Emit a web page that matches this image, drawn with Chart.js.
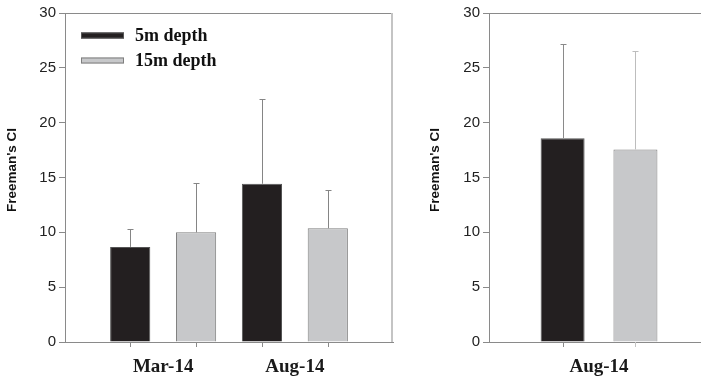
<!DOCTYPE html>
<html>
<head>
<meta charset="utf-8">
<script src="https://cdn.jsdelivr.net/npm/chart.js@4.4.1/dist/chart.umd.min.js"></script>
<style>
  html, body { margin: 0; padding: 0; background: #ffffff; overflow: hidden; }
  #wrap { position: relative; width: 701px; height: 379px; }
  #c1 { position: absolute; left: 0; top: 0; }
  #c2 { position: absolute; left: 423px; top: 0; }
</style>
</head>
<body>
<div id="wrap">
  <canvas id="c1" width="400" height="379"></canvas>
  <canvas id="c2" width="278" height="379"></canvas>
</div>
<script>
// Freeman's CI by sampling month and depth (mean with upper SD whisker)
const seriesNames = ['5m depth', '15m depth'];

// Left panel: both sampling months
const categories = ['Mar-14', 'Aug-14'];
const depth5 = [8.67, 14.43];
const depth5Sd = [1.61, 7.74];
const depth15 = [10.0, 10.37];
const depth15Sd = [4.47, 3.46];

// Right panel: August only
const augCategories = ['Aug-14'];
const augDepth5 = [18.59];
const augDepth5Sd = [8.55];
const augDepth15 = [17.56];
const augDepth15Sd = [9.0];

const yTicks = [0, 5, 10, 15, 20, 25, 30];
const yTitle = "Freeman's CI";

const BLACK = '#231f20';
const GREY = '#c7c8ca';
const AXIS = '#8a8a8a';
const SANS = '"Liberation Sans", Arial, sans-serif';
const SERIF = '"Liberation Serif", "Times New Roman", serif';

// Upper whiskers: from the bar top to mean + SD, with a short cap
const errorBars = {
  id: 'errorBars',
  afterDatasetsDraw(chart) {
    const ctx = chart.ctx;
    const y = chart.scales.y;
    chart.data.datasets.forEach((ds, di) => {
      const meta = chart.getDatasetMeta(di);
      meta.data.forEach((bar, i) => {
        const top = Math.round(y.getPixelForValue(ds.data[i].y + ds.errors[i])) + 0.5;
        const x = Math.round(bar.x) + 0.5;
        ctx.save();
        ctx.strokeStyle = ds.errorColor;
        ctx.lineWidth = 1;
        ctx.beginPath();
        ctx.moveTo(x, bar.y);
        ctx.lineTo(x, top);
        ctx.moveTo(x - 3, top);
        ctx.lineTo(x + 3, top);
        ctx.stroke();
        ctx.restore();
      });
    });
  }
};

// Top frame line, optional right frame line and tick marks under each bar
const frame = {
  id: 'frame',
  afterDraw(chart, args, opts) {
    const ctx = chart.ctx;
    const a = chart.chartArea;
    ctx.save();
    ctx.lineWidth = 1;
    ctx.strokeStyle = AXIS;
    ctx.beginPath();
    ctx.moveTo(a.left, a.top + 0.5);
    ctx.lineTo(a.right, a.top + 0.5);
    ctx.stroke();
    if (opts.rightBorder) {
      ctx.strokeStyle = '#c4c4c4';
      ctx.lineWidth = 2;
      ctx.beginPath();
      ctx.moveTo(a.right - 1, a.top);
      ctx.lineTo(a.right - 1, a.bottom);
      ctx.stroke();
    }
    ctx.lineWidth = 1;
    chart.data.datasets.forEach((ds, di) => {
      ctx.strokeStyle = ds.tickColor;
      chart.getDatasetMeta(di).data.forEach(bar => {
        const x = Math.round(bar.x) + 0.5;
        ctx.beginPath();
        ctx.moveTo(x, a.bottom);
        ctx.lineTo(x, a.bottom + 5);
        ctx.stroke();
      });
    });
    ctx.restore();
  }
};

// Legend drawn inside the plot area, top-left
const insetLegend = {
  id: 'insetLegend',
  afterDraw(chart, args, opts) {
    if (!opts.display) return;
    const ctx = chart.ctx;
    const a = chart.chartArea;
    ctx.save();
    chart.data.datasets.forEach((ds, i) => {
      const cy = a.top + 22.5 + i * 25;
      const x0 = a.left + 16;
      ctx.fillStyle = ds.backgroundColor;
      ctx.fillRect(x0, cy - 3, 43, 6);
      ctx.strokeStyle = ds.borderColor;
      ctx.lineWidth = 1;
      ctx.strokeRect(x0 + 0.5, cy - 2.5, 42, 5);
      ctx.fillStyle = '#111111';
      ctx.font = 'bold 18px ' + SERIF;
      ctx.textBaseline = 'middle';
      ctx.textAlign = 'left';
      ctx.fillText(ds.label, x0 + 54, cy + 1);
    });
    ctx.restore();
  }
};

function makeDataset(label, values, sd, color, border, errColor, tickColor) {
  return {
    label: label,
    data: values.map((v, i) => ({ x: i, y: v })),
    errors: sd,
    backgroundColor: color,
    borderColor: border,
    borderWidth: 1,
    errorColor: errColor,
    tickColor: tickColor
  };
}

function makeChart(canvasId, cats, datasets, cfg) {
  return new Chart(document.getElementById(canvasId), {
    type: 'bar',
    data: { datasets: datasets },
    options: {
      responsive: false,
      animation: false,
      devicePixelRatio: 1,
      categoryPercentage: cfg.categoryPercentage,
      barPercentage: cfg.barPercentage,
      layout: { padding: { left: 0, right: cfg.padRight, top: 13, bottom: 0 } },
      plugins: {
        legend: { display: false },
        tooltip: { enabled: false },
        frame: { rightBorder: cfg.rightBorder },
        insetLegend: { display: cfg.legend }
      },
      scales: {
        x: {
          type: 'linear',
          offset: false,
          min: cfg.xMin,
          max: cfg.xMax,
          afterBuildTicks: s => { s.ticks = cats.map((c, i) => ({ value: i })); },
          afterFit: s => { s.height = 37; },
          grid: { display: false, drawTicks: false },
          border: { display: true, color: AXIS, width: 1 },
          ticks: {
            callback: v => cats[v],
            autoSkip: false,
            maxRotation: 0,
            padding: 14,
            color: '#1a1a1a',
            font: { family: SERIF, size: 19, weight: 'bold' }
          }
        },
        y: {
          min: 0,
          max: 30,
          afterBuildTicks: s => { s.ticks = yTicks.map(v => ({ value: v })); },
          afterFit: s => { s.width = cfg.yWidth; },
          grid: { drawOnChartArea: false, drawTicks: true, tickLength: 6, color: AXIS },
          border: { display: true, color: AXIS, width: 1 },
          ticks: {
            padding: 3,
            color: '#222222',
            font: { family: SANS, size: 15 }
          },
          title: {
            display: true,
            text: '    ' + yTitle,
            color: '#111111',
            padding: { top: 4, bottom: 0 },
            font: { family: SANS, size: 13.5, weight: 'bold' }
          }
        }
      }
    },
    plugins: [errorBars, frame, insetLegend]
  });
}

makeChart('c1', categories, [
  makeDataset(seriesNames[0], depth5, depth5Sd, BLACK, '#555555', '#858585', '#8a8a8a'),
  makeDataset(seriesNames[1], depth15, depth15Sd, GREY, '#7f7f7f', '#858585', '#8a8a8a')
], { xMin: -0.745, xMax: 1.745, categoryPercentage: 1, barPercentage: 0.61,
     padRight: 7, yWidth: 65, rightBorder: true, legend: true });

makeChart('c2', augCategories, [
  makeDataset(seriesNames[0], augDepth5, augDepth5Sd, BLACK, '#555555', '#8a8a8a', '#8a8a8a'),
  makeDataset(seriesNames[1], augDepth15, augDepth15Sd, GREY, '#7f7f7f', '#bdbdbd', '#c4c4c4')
], { xMin: -1.038, xMax: 0.962, categoryPercentage: 0.687, barPercentage: 0.604,
     padRight: 0, yWidth: 66, rightBorder: false, legend: false });
</script>
</body>
</html>
